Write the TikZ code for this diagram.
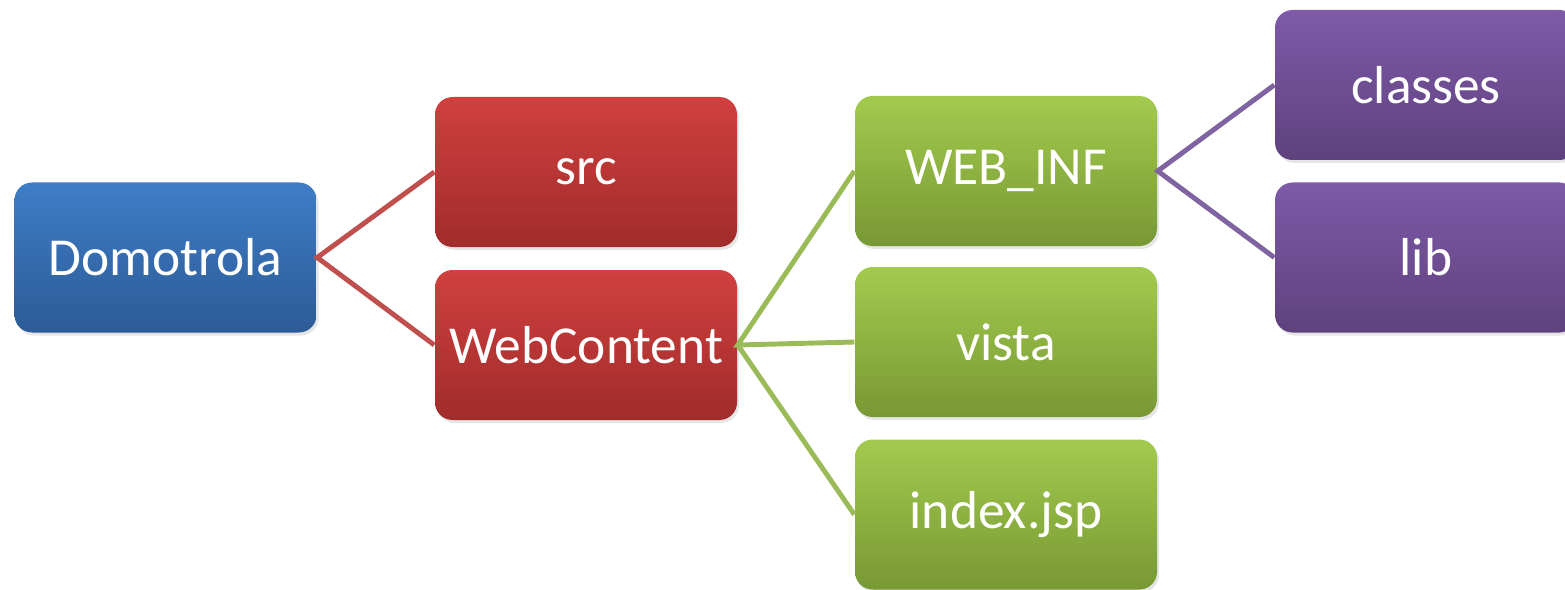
\documentclass[tikz,border=0pt]{standalone}
\usepackage{fontspec}
\setmainfont{Carlito}
\usetikzlibrary{shadows}
\definecolor{bluetop}{HTML}{3E7DC6}
\definecolor{bluebot}{HTML}{2C5B97}
\definecolor{redtop}{HTML}{D0403E}
\definecolor{redbot}{HTML}{A02C2B}
\definecolor{greentop}{HTML}{A2CB4E}
\definecolor{greenbot}{HTML}{789834}
\definecolor{purpletop}{HTML}{7E5AA8}
\definecolor{purplebot}{HTML}{5F417E}
\definecolor{redline}{HTML}{C0504D}
\definecolor{greenline}{HTML}{9BBB59}
\definecolor{purpleline}{HTML}{8064A2}
\tikzset{
  folder/.style={rounded corners=5pt, minimum width=3.02cm, minimum height=1.50cm,
    inner sep=0pt, text=white, font=\fontsize{15.2}{18}\selectfont,
    drop shadow={opacity=0.2, shadow xshift=0.02cm, shadow yshift=-0.03cm}},
  bluebox/.style={folder, top color=bluetop, bottom color=bluebot},
  redbox/.style={folder, top color=redtop, bottom color=redbot},
  greenbox/.style={folder, top color=greentop, bottom color=greenbot},
  purplebox/.style={folder, top color=purpletop, bottom color=purplebot},
  link/.style={line width=1.4pt}
}

\begin{document}
\begin{tikzpicture}
    \useasboundingbox (0,0) rectangle (15.65,-5.89);
    \clip (0,0) rectangle (15.65,-5.89);
    \node[bluebox] (root) at (1.655,-2.575) {Domotrola};
    \node[redbox] (src) at (5.86,-1.72) {src};
    \node[redbox] (web) at (5.86,-3.45) {WebContent};
    \node[greenbox] (webinf) at (10.06,-1.71) {WEB\_INF};
    \node[greenbox] (vista) at (10.06,-3.42) {vista};
    \node[greenbox] (index) at (10.06,-5.145) {index.jsp};
    \node[purplebox] (classes) at (14.26,-0.85) {classes};
    \node[purplebox] (lib) at (14.26,-2.575) {lib};
    \draw[link, redline] (src.west) -- (root.east) -- (web.west);
    \draw[link, greenline] (webinf.west) -- (web.east) -- (vista.west);
    \draw[link, greenline] (web.east) -- (index.west);
    \draw[link, purpleline] (classes.west) -- (webinf.east) -- (lib.west);
\end{tikzpicture}
\end{document}
